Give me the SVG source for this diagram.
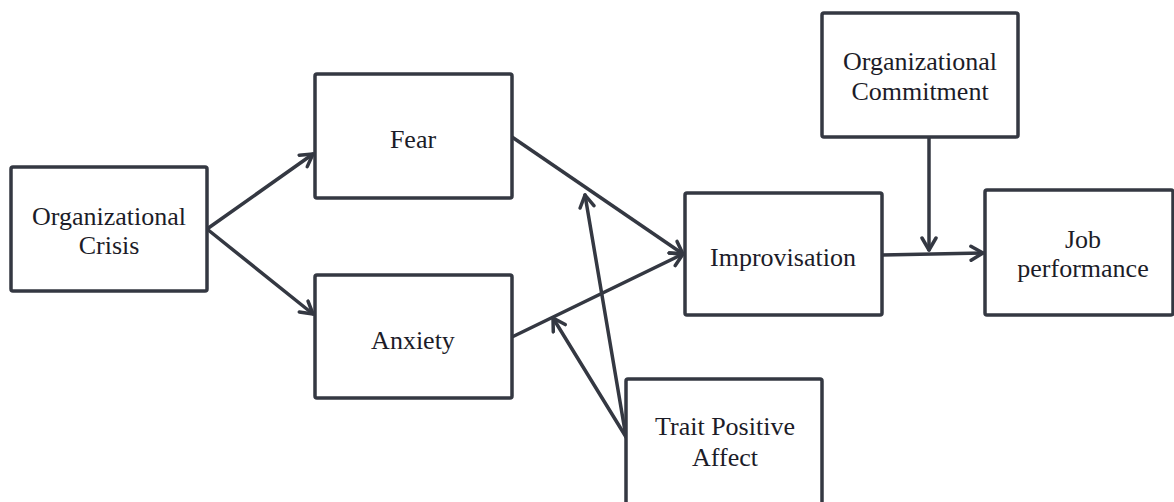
<svg xmlns="http://www.w3.org/2000/svg" width="1174" height="502" viewBox="0 0 1174 502">
  <style>
    .box { fill: #ffffff; stroke: #343842; stroke-width: 3.5; }
    .lbl { font-family: "Liberation Serif", "Times New Roman", serif; font-size: 26px; fill: #1c1c28; text-anchor: middle; }
    .edge { fill: none; stroke: #343842; stroke-width: 3.5; stroke-linecap: round; }
  </style>
  <defs>
    <marker id="arrow" viewBox="-14 -9 16 18" refX="0" refY="0" markerWidth="16" markerHeight="18" markerUnits="userSpaceOnUse" orient="auto">
      <path d="M-12,-7 L0,0 L-12,7" fill="none" stroke="#343842" stroke-width="3.5" stroke-linecap="round" stroke-linejoin="round"/>
    </marker>
  </defs>
  <rect width="1174" height="502" fill="#ffffff"/>

  <!-- connectors -->
  <g id="connectors">
    <line class="edge" x1="207" y1="229" x2="313" y2="154" marker-end="url(#arrow)"/>
    <line class="edge" x1="207" y1="229" x2="313" y2="314" marker-end="url(#arrow)"/>
    <line class="edge" x1="512" y1="137" x2="683" y2="254" marker-end="url(#arrow)"/>
    <line class="edge" x1="512" y1="337" x2="683" y2="254" marker-end="url(#arrow)"/>
    <line class="edge" x1="626" y1="437" x2="585" y2="195" marker-end="url(#arrow)"/>
    <line class="edge" x1="626" y1="437" x2="553" y2="318" marker-end="url(#arrow)"/>
    <line class="edge" x1="882" y1="255" x2="983" y2="253" marker-end="url(#arrow)"/>
    <line class="edge" x1="929" y1="137" x2="929" y2="250" marker-end="url(#arrow)"/>
  </g>

  <g id="node-crisis">
    <rect class="box" x="11" y="167" width="196" height="124" rx="2"/>
    <text class="lbl" x="109" y="225">Organizational</text>
    <text class="lbl" x="109" y="254">Crisis</text>
  </g>

  <g id="node-fear">
    <rect class="box" x="315" y="74" width="197" height="124" rx="2"/>
    <text class="lbl" x="413" y="148">Fear</text>
  </g>

  <g id="node-anxiety">
    <rect class="box" x="315" y="275" width="197" height="123" rx="2"/>
    <text class="lbl" x="413" y="349">Anxiety</text>
  </g>

  <g id="node-improvisation">
    <rect class="box" x="685" y="193" width="197" height="122" rx="2"/>
    <text class="lbl" x="783" y="266">Improvisation</text>
  </g>

  <g id="node-commitment">
    <rect class="box" x="822" y="13" width="196" height="124" rx="2"/>
    <text class="lbl" x="920" y="70">Organizational</text>
    <text class="lbl" x="920" y="100">Commitment</text>
  </g>

  <g id="node-performance">
    <rect class="box" x="985" y="190" width="188" height="125" rx="2"/>
    <text class="lbl" x="1083" y="248">Job</text>
    <text class="lbl" x="1083" y="277">performance</text>
  </g>

  <g id="node-trait">
    <rect class="box" x="626" y="379" width="196" height="126" rx="2"/>
    <text class="lbl" x="725" y="435">Trait Positive</text>
    <text class="lbl" x="725" y="466">Affect</text>
  </g>
</svg>
